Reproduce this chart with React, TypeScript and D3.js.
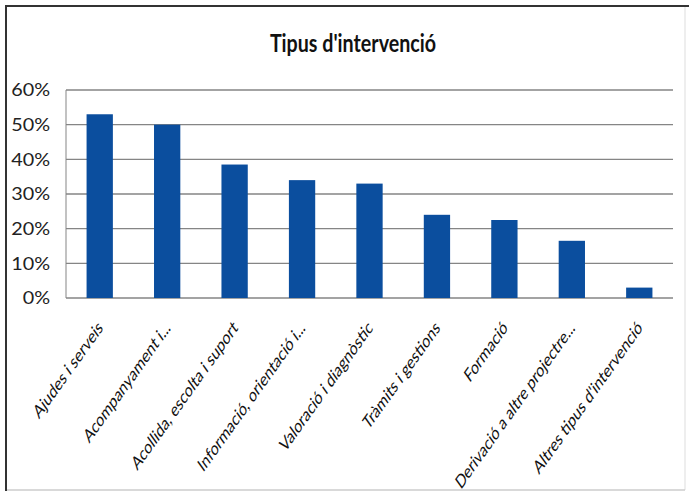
import React from "react";
import * as d3 from "d3";

const categories = [
  "Ajudes i serveis",
  "Acompanyament i...",
  "Acollida, escolta i suport",
  "Informació, orientació  i...",
  "Valoració i diagnòstic",
  "Tràmits i gestions",
  "Formació",
  "Derivació a altre projectre...",
  "Altres tipus d'intervenció",
];
const values = [0.53, 0.5, 0.385, 0.34, 0.33, 0.24, 0.225, 0.165, 0.03];
const yTicks = [0, 0.1, 0.2, 0.3, 0.4, 0.5, 0.6];
const title = "Tipus d'intervenció";

const W = 689;
const H = 495;
const font = "Lato, Carlito, 'Open Sans', sans-serif";

export default function App() {
  const left = 66, right = 673, top = 90, bottom = 298;
  const x = d3.scaleBand<string>().domain(categories).range([left, right]).paddingInner(0.61).paddingOuter(0.305);
  const y = d3.scaleLinear().domain([0, 0.6]).range([bottom, top]);
  const fmt = d3.format(".0%");
  return (
    <svg width={W} height={H} style={{ position: "absolute", left: 0, top: 0, background: "#fff" }}>
      <rect x={0} y={0} width={W} height={H} fill="#fff" />
      <line x1={6} y1={5} x2={6} y2={491} stroke="#333" strokeWidth={2} />
      <line x1={5} y1={6} x2={689} y2={6} stroke="#333" strokeWidth={2} />
      <line x1={685} y1={7} x2={685} y2={490} stroke="#ddd" strokeWidth={1} />
      <line x1={7} y1={490} x2={685} y2={490} stroke="#ccc" strokeWidth={1.5} />
      <g transform="translate(353,52) scale(0.82,1)">
        <text x={0} y={0} textAnchor="middle" fontFamily={font} fontWeight="bold" fontSize={24} fill="#111">{title}</text>
      </g>
      {yTicks.map((t) => (
        <g key={t}>
          <line x1={left} x2={right} y1={y(t)} y2={y(t)} stroke="#858585" strokeWidth={1.4} />
          <g transform={`translate(50,${y(t)}) scale(1.1,1)`}>
            <text x={0} y={0} dy="0.36em" textAnchor="end" fontFamily={font} fontSize={18} fill="#222">{fmt(t)}</text>
          </g>
        </g>
      ))}
      <line x1={left} x2={left} y1={top} y2={bottom} stroke="#858585" strokeWidth={1} />
      {categories.map((c, i) => (
        <rect key={c} x={x(c)} y={y(values[i])} width={x.bandwidth()} height={y(0) - y(values[i])} fill="#0b4e9e" />
      ))}
      {categories.map((c) => {
        const cx = (x(c) as number) + x.bandwidth() / 2 + 4;
        const cy = 329;
        return (
          <g key={c} transform={`translate(${cx},${cy}) scale(1,1.4) rotate(-45)`}>
            <text x={0} y={0} textAnchor="end" fontFamily={font} fontSize={13.5} fill="#111">{c}</text>
          </g>
        );
      })}
    </svg>
  );
}
